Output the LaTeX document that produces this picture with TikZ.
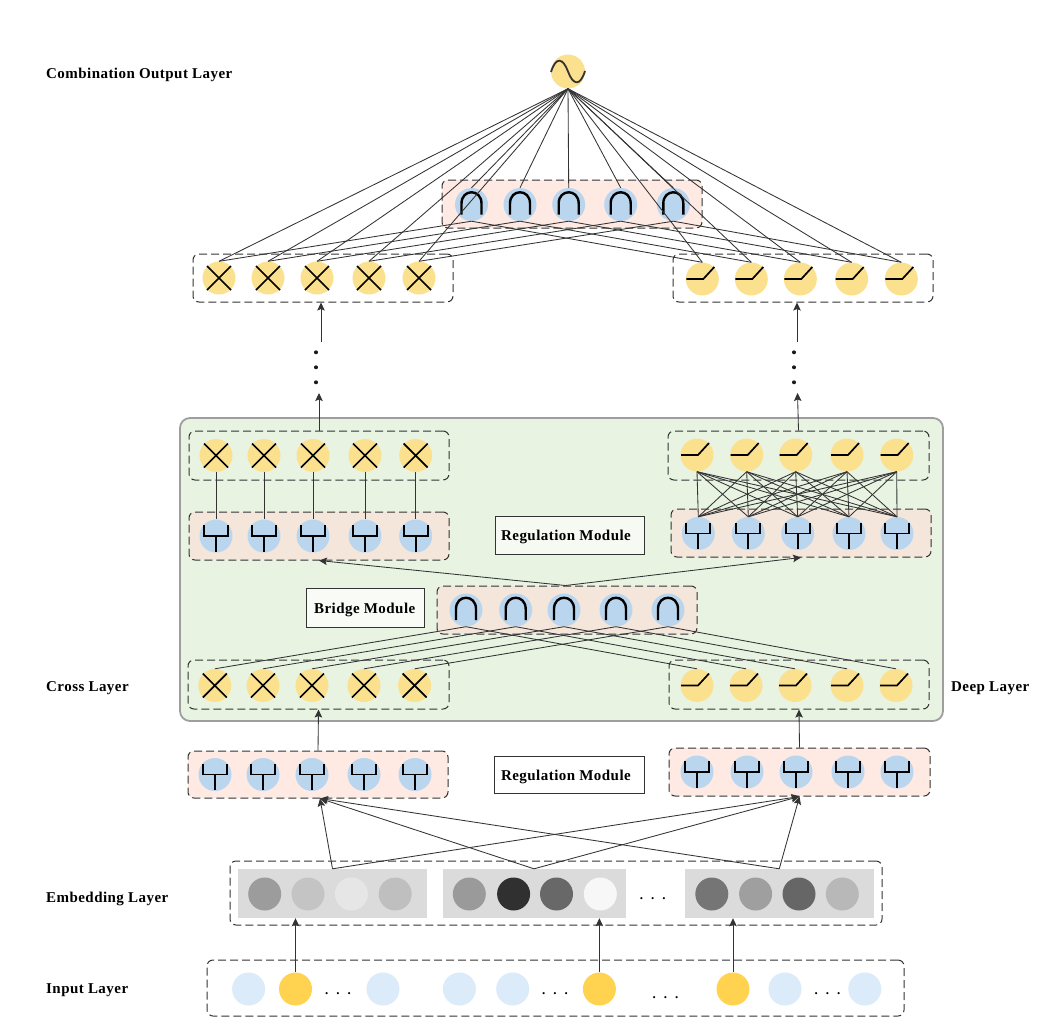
\documentclass[tikz,border=0pt]{standalone}
\usepackage{fontspec}
\setmainfont{Liberation Serif}
\newfontfamily\lbf[LetterSpace=3]{Liberation Serif}
\usetikzlibrary{arrows.meta,fit,positioning}
\definecolor{ylw}{HTML}{FBE18E}
\definecolor{blu}{HTML}{BAD5EE}
\definecolor{pnk}{HTML}{FEE9E3}
\definecolor{pkg}{HTML}{F5E6DB}
\definecolor{grn}{HTML}{E8F3E2}
\definecolor{ink}{HTML}{333333}
\definecolor{inl}{HTML}{DBEBFA}
\definecolor{iny}{HTML}{FFD24F}
\tikzset{
  unit/.style={circle,inner sep=0pt,minimum size=33pt,draw=none},
  ybub/.style={unit,fill=ylw},
  bbub/.style={unit,fill=blu},
  gl/.style={line width=1.7pt,black,line cap=butt,line join=miter},
  lay/.style={draw=ink,dash pattern=on 8pt off 4pt,line width=1pt,rounded corners=6pt,inner sep=0pt},
  conn/.style={draw=ink,line width=0.85pt},
  arr/.style={conn,-{Stealth[length=8pt,width=7.5pt,inset=1.5pt]}},
  lab/.style={font=\fontsize{15}{17}\lbf\bfseries,anchor=west,inner sep=0pt},
  mod/.style={draw=ink,line width=0.9pt,inner sep=0pt},
  modt/.style={font=\fontsize{15}{17}\lbf\bfseries,inner sep=0pt},
  gband/.style={fill=black!14,inner sep=0pt},
  dts/.style={font=\bfseries\fontsize{13}{13}\selectfont,anchor=base,inner sep=0pt},
}
\newcommand{\layerbox}[6]{\node[lay,fill=#6,fit={(#2,#3)(#4,#5)}] (#1) {};}
\newcommand{\gX}{\draw[gl] (-12,-12)--(12,12) (-12,12)--(12,-12);}
\newcommand{\gA}{\draw[gl,line width=2.4pt] (-10,10)--(-10,-1) .. controls (-10,-16) and (10,-16) .. (10,-1) -- (10,10);}
\newcommand{\gF}{\draw[gl] (-12,-11)--(-12,0)--(12,0)--(12,-11) (0,0)--(0,15.5);}
\newcommand{\gR}{\draw[gl] (-16,0)--(1,0)--(12,-12);}
% row: prefix, y, style, glyph, list of k/x
\newcommand{\urow}[5]{\foreach \k/\xx in {#5}{
  \node[#3] (#1\k) at (\xx,#2) {};
  \begin{scope}[shift={(\xx,#2)}]#4\end{scope}}}
\begin{document}
\begin{tikzpicture}[x=1pt,y=-1pt]
\useasboundingbox (0,0) rectangle (1052,1028);
\fill[white] (0,0) rectangle (1052,1028);
% green panel
\node[draw=black!38,line width=1.8pt,fill=grn,rounded corners=10pt,inner sep=0pt,fit={(180,418)(943,721)}] (panel) {};
% layer boxes
\layerbox{bT}{442}{180}{702}{228}{pnk}
\layerbox{cT}{193}{254}{453}{302}{white}
\layerbox{dT}{673}{254}{933}{302}{white}
\layerbox{cU}{189}{431}{449}{480}{grn}
\layerbox{dU}{668}{431}{929}{480}{grn}
\layerbox{rU}{189}{512}{449}{560}{pkg}
\layerbox{sU}{671}{509}{931}{557}{pkg}
\layerbox{bM}{437}{586}{697}{634}{pkg}
\layerbox{cL}{188}{660}{449}{709}{grn}
\layerbox{dL}{669}{660}{929}{709}{grn}
\layerbox{rL}{188}{751}{448}{798}{pnk}
\layerbox{sL}{669}{748}{930}{796}{pnk}
\layerbox{emb}{230}{861}{882}{925}{white}
\layerbox{inp}{207}{960}{904}{1016}{white}
% output
\node[ybub,minimum size=34pt] (out) at (568,71.5) {};
\draw[gl,ink,line width=1.8pt] (551,72) .. controls (556,56) and (563,58) .. (568,71.5) .. controls (573,85) and (580,87) .. (585,71);
% units
\urow{t}{204.5}{bbub}{\gA}{1/471.5,2/520,3/568.7,4/620.7,5/673.3}
\urow{x}{278}{ybub}{\gX}{1/219,2/268,3/317,4/369,5/419}
\urow{y}{279}{ybub}{\gR}{1/702.3,2/751.3,3/800.3,4/851.7,5/901.3}
\urow{p}{455.5}{ybub}{\gX}{1/216,2/264,3/313,4/365,5/415.7}
\urow{q}{455}{ybub}{\gR}{1/697,2/746.7,3/795.7,4/847,5/896.7}
\urow{u}{536}{bbub}{\gF}{1/216,2/264,3/313,4/365,5/415.7}
\urow{v}{533.5}{bbub}{\gF}{1/698.3,2/748.3,3/797.7,4/849,5/897}
\urow{m}{610}{bbub}{\gA}{1/466,2/515.7,3/564,4/616,5/668}
\urow{f}{685.5}{ybub}{\gX}{1/214.8,2/263,3/312,4/364,5/414.6}
\urow{g}{685.5}{ybub}{\gR}{1/697,2/746,3/795,4/847,5/896}
\urow{h}{774.5}{bbub}{\gF}{1/215,2/263,3/312,4/364,5/415}
\urow{j}{772}{bbub}{\gF}{1/697,2/747,3/796,4/848,5/897}
% embedding
\node[gband,fit={(238,869)(427,918)}] (e1) {};
\node[gband,fit={(442.5,869)(625.5,918)}] (e2) {};
\node[gband,fit={(685,869)(873.5,918)}] (e3) {};
\foreach \k/\xx/\c in {1/264.7/9C9C9C,2/308/C4C4C4,3/351.4/E6E6E6,4/395.2/BFBFBF,5/469.3/9A9A9A,6/513.6/303030,7/556.5/686868,8/600.3/F7F7F7,9/711.8/757575,10/755.6/9F9F9F,11/799/666666,12/842.3/B8B8B8}{
  \definecolor{cc}{HTML}{\c}
  \node[unit,fill=cc] (em\k) at (\xx,894) {};
}
% input
\foreach \k/\xx/\c in {1/248.6/inl,2/295.5/iny,3/383/inl,4/459.4/inl,5/512.7/inl,6/599.4/iny,7/733/iny,8/785/inl,9/864.8/inl}{
  \node[unit,fill=\c] (in\k) at (\xx,989) {};
}
% horizontal dots
\foreach \k/\xx/\yy in {1/338/994,2/555/994,3/665.4/998,4/827.5/994,5/652.8/899}{
  \node[dts] (dd\k) at (\xx,\yy) {.\hspace{8pt}.\hspace{8pt}.};
}
% vertical dots
\foreach \yy in {352.3,367.3,382.3}{
  \fill[black!90] (316,\yy) circle (2);
  \fill[black!90] (794,\yy) circle (2);
}
% connectors: output fan
\foreach \k in {1,...,5}{
  \draw[conn] (out.south) -- (t\k.north);
  \draw[conn] (out.south) -- (x\k.north);
  \draw[conn] (out.south) -- (y\k.north);
  \draw[conn] (t\k.south) -- (x\k.north);
  \draw[conn] (t\k.south) -- (y\k.north);
  \draw[conn] (p\k.south) -- (u\k.north);
  \draw[conn] (m\k.south) -- (f\k.north);
  \draw[conn] (m\k.south) -- (g\k.north);
  \foreach \l in {1,...,5}{\draw[conn] (q\k.south) -- (v\l.north);}
}
% vertical arrows
\coordinate (a1) at (321,342);
\coordinate (a2) at (319,393);
\coordinate (a3) at (797,342);
\coordinate (a4) at (797.5,393);
\draw[arr] (a1) -- (a1 |- cT.south);
\draw[arr] (cU.north) -- (a2);
\draw[arr] (a3) -- (a3 |- dT.south);
\draw[arr] (dU.north) -- (a4);
\draw[arr] ([xshift=-1.5pt]bM.north) -- (rU.south);
\draw[arr] ([xshift=-1.5pt]bM.north) -- (sU.south);
\draw[arr] (rL.north) -- (cL.south);
\draw[arr] (sL.north) -- (dL.south);
\foreach \s in {e1,e2,e3}{
  \draw[arr] (\s.north) -- ([xshift=2pt]rL.south);
  \draw[arr] (\s.north) -- (sL.south);
}
\draw[arr] (in2.north) -- (in2.north |- e1.south);
\draw[arr] (in6.north) -- (in6.north |- e2.south);
\draw[arr] (in7.north) -- (in7.north |- e3.south);
% module labels
\node[mod,fill=white!60!grn,fit={(495,516)(644,554)}] (rm1box) {};
\node[modt] (rm1) at ([shift={(-3.5,2)}]rm1box.center) {Regulation Module};
\node[mod,fill=white!70!grn,fit={(306.4,588)(424,627)}] (bmbox) {};
\node[modt] (bm) at ([shift={(-0.5,2)}]bmbox.center) {Bridge Module};
\node[mod,fill=white,fit={(494.4,756)(644.5,793)}] (rm2box) {};
\node[modt] (rm2) at ([shift={(-3.5,2)}]rm2box.center) {Regulation Module};
% side labels
\node[lab] (l1) at (46,75) {Combination Output Layer};
\node[lab] (l2) at (46,688) {Cross Layer};
\node[lab] (l3) at (951,688) {Deep Layer};
\node[lab] (l4) at (46,899) {Embedding Layer};
\node[lab] (l5) at (46,990) {Input Layer};
\end{tikzpicture}
\end{document}
